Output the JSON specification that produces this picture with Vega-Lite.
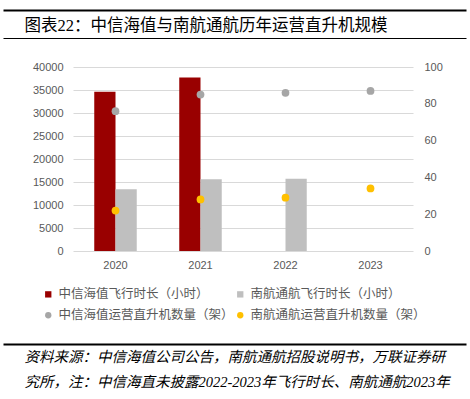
{
  "$schema": "https://vega.github.io/schema/vega-lite/v6.json",
  "background": "white",
  "padding": {"left": 0, "top": 10, "right": 0, "bottom": 0},
  "config": {
    "view": {"stroke": null},
    "font": "Noto Sans CJK SC",
    "axis": {"labelFont": "Liberation Sans"}
  },
  "spacing": 20,
  "vconcat": [
    {
      "width": 391,
      "height": 28,
      "data": {"values": [{"v": 0}]},
      "layer": [
        {
          "mark": {"type": "point", "opacity": 0},
          "encoding": {
            "x": {
              "field": "v", "type": "quantitative", "scale": {"domain": [0, 1], "range": [-70, 393]},
              "axis": {
                "orient": "top", "domain": true, "domainColor": "black", "domainWidth": 2,
                "ticks": false, "labels": false, "grid": false,
                "title": "图表22：中信海值与南航通航历年运营直升机规模",
                "titleX": -49, "titleY": 15, "titleAlign": "left", "titleAnchor": "start",
                "titleBaseline": "middle", "titleAngle": 0, "titleLimit": 0,
                "titleFont": "Liberation Serif, Noto Sans CJK SC", "titleFontSize": 16.5, "titleFontWeight": "normal", "titleColor": "black"
              }
            },
            "y": {"field": "v", "type": "quantitative", "scale": {"domain": [0, 1]}, "axis": null}
          }
        },
        {
          "mark": {"type": "point", "opacity": 0},
          "encoding": {
            "x": {
              "field": "v", "type": "quantitative", "scale": {"domain": [0, 1], "range": [-70, 393]},
              "axis": {
                "orient": "bottom", "domain": true, "domainColor": "black", "domainWidth": 1,
                "ticks": false, "labels": false, "grid": false, "title": null
              }
            },
            "y": {"field": "v", "type": "quantitative", "scale": {"domain": [0, 1]}, "axis": null}
          }
        }
      ],
      "resolve": {"scale": {"x": "independent"}, "axis": {"x": "independent"}}
    },
    {
      "width": 340,
      "height": 184,
      "layer": [
        {
          "data": {"values": [
            {"year": "2020", "series": "中信海值飞行时长（小时）", "hours": 34600},
            {"year": "2020", "series": "南航通航飞行时长（小时）", "hours": 13400},
            {"year": "2021", "series": "中信海值飞行时长（小时）", "hours": 37700},
            {"year": "2021", "series": "南航通航飞行时长（小时）", "hours": 15600},
            {"year": "2022", "series": "南航通航飞行时长（小时）", "hours": 15700}
          ]},
          "mark": {"type": "bar"},
          "encoding": {
            "x": {
              "field": "year", "type": "nominal",
              "scale": {"domain": ["2020", "2021", "2022", "2023"], "paddingInner": 0, "paddingOuter": 0},
              "axis": {
                "title": null, "labelAngle": 0, "domain": false, "ticks": false,
                "labelColor": "#595959", "labelFontSize": 11, "labelPadding": 8.5, "minExtent": 72.5
              }
            },
            "xOffset": {
              "field": "series", "type": "nominal",
              "scale": {"domain": ["中信海值飞行时长（小时）", "南航通航飞行时长（小时）"], "paddingInner": 0, "paddingOuter": 1.125}
            },
            "y": {
              "field": "hours", "type": "quantitative",
              "scale": {"domain": [0, 40000]},
              "axis": {
                "title": null, "values": [0, 5000, 10000, 15000, 20000, 25000, 30000, 35000, 40000],
                "format": "d", "domain": false, "ticks": false, "grid": true, "gridColor": "#D9D9D9", "gridWidth": 1,
                "labelColor": "#595959", "labelFontSize": 11, "labelPadding": 10, "minExtent": 69
              }
            },
            "color": {
              "field": "series", "type": "nominal",
              "scale": {
                "domain": ["中信海值飞行时长（小时）", "南航通航飞行时长（小时）", "中信海值运营直升机数量（架）", "南航通航运营直升机数量（架）"],
                "range": ["#990000", "#BFBFBF", "#A6A6A6", "#FFC000"]
              },
              "legend": {
                "orient": "none", "legendX": -31, "legendY": 278, "title": null, "columns": 2, "direction": "horizontal",
                "labelFont": "Noto Sans CJK SC", "labelFontSize": 12.5, "labelColor": "#595959", "labelLimit": 0,
                "symbolSize": 40, "labelOffset": 4, "rowPadding": 8, "columnPadding": 0, "padding": 0
              }
            }
          }
        },
        {
          "data": {"values": [
            {"year": "2020", "series": "中信海值运营直升机数量（架）", "count": 76},
            {"year": "2021", "series": "中信海值运营直升机数量（架）", "count": 85},
            {"year": "2022", "series": "中信海值运营直升机数量（架）", "count": 86},
            {"year": "2023", "series": "中信海值运营直升机数量（架）", "count": 87},
            {"year": "2020", "series": "南航通航运营直升机数量（架）", "count": 22},
            {"year": "2021", "series": "南航通航运营直升机数量（架）", "count": 28},
            {"year": "2022", "series": "南航通航运营直升机数量（架）", "count": 29},
            {"year": "2023", "series": "南航通航运营直升机数量（架）", "count": 34}
          ]},
          "mark": {"type": "point", "filled": true, "opacity": 1, "size": 60},
          "encoding": {
            "x": {"field": "year", "type": "nominal"},
            "y": {
              "field": "count", "type": "quantitative",
              "scale": {"domain": [0, 100]},
              "axis": {
                "orient": "right", "title": null, "values": [0, 20, 40, 60, 80, 100],
                "domain": false, "ticks": false, "grid": false,
                "labelColor": "#595959", "labelFontSize": 11, "labelPadding": 11
              }
            },
            "color": {"field": "series", "type": "nominal"},
            "shape": {
              "field": "series", "type": "nominal",
              "scale": {
                "domain": ["中信海值飞行时长（小时）", "南航通航飞行时长（小时）", "中信海值运营直升机数量（架）", "南航通航运营直升机数量（架）"],
                "range": ["square", "square", "circle", "circle"]
              }
            }
          }
        }
      ],
      "resolve": {"scale": {"y": "independent"}, "axis": {"y": "independent"}}
    },
    {
      "width": 391,
      "height": 45,
      "data": {"values": [{"v": 0}]},
      "mark": {"type": "point", "opacity": 0},
      "encoding": {
        "x": {
          "field": "v", "type": "quantitative", "scale": {"domain": [0, 1], "range": [-70, 393]},
          "axis": {
            "orient": "top", "domain": true, "domainColor": "black", "domainWidth": 2,
            "ticks": false, "labels": false, "grid": false,
            "title": ["资料来源：中信海值公司公告，南航通航招股说明书，万联证券研", "究所，注：中信海直未披露2022-2023年飞行时长、南航通航2023年"],
            "titleX": -49, "titleY": 6, "titleAlign": "left", "titleAnchor": "start",
            "titleBaseline": "top", "titleAngle": 0, "titleLineHeight": 25, "titleLimit": 0,
            "titleFont": "Liberation Serif, Noto Sans CJK SC", "titleFontSize": 14.5, "titleFontStyle": "italic",
            "titleFontWeight": "normal", "titleColor": "black"
          }
        },
        "y": {"field": "v", "type": "quantitative", "scale": {"domain": [0, 1]}, "axis": null}
      }
    }
  ]
}
